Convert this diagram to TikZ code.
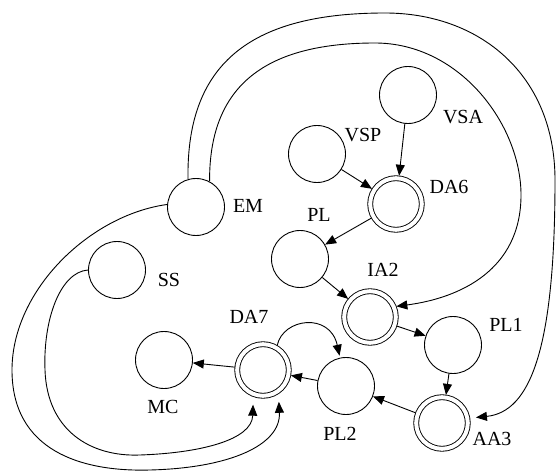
\documentclass[tikz,border=0pt]{standalone}
\usepackage{fontspec}
\setmainfont{Liberation Serif}
\usetikzlibrary{arrows.meta}
\begin{document}
\begin{tikzpicture}[x=1pt,y=-1pt,
  state/.style={circle,draw,line width=0.9pt,minimum size=57pt,inner sep=0pt},
  goal/.style={circle,draw,line width=0.9pt,double,double distance=4pt,
    minimum size=51.6pt,inner sep=0pt,outer sep=2.6pt},
  lbl/.style={inner sep=0pt,font=\fontsize{20}{24}\selectfont},
  arr/.style={line width=0.9pt,-{Triangle[length=11pt,width=9pt]}},
  link/.style={line width=0.9pt}]
\useasboundingbox (0,0) rectangle (557,473);

% states
\node[state] (VSA) at (408,95) {};
\node[state] (VSP) at (317,154) {};
\node[goal]  (DA6) at (396,204) {};
\node[state] (EM)  at (196,207) {};
\node[state] (PL)  at (300,259) {};
\node[goal]  (IA2) at (370,317) {};
\node[state] (PL1) at (453,345) {};
\node[state] (PL2) at (346,386) {};
\node[goal]  (AA3) at (442,423) {};
\node[goal]  (DA7) at (263,370) {};
\node[state] (MC)  at (164,360) {};
\node[state] (SS)  at (117,270) {};

% labels
\node[lbl] (tVSA) at (463,117) {VSA};
\node[lbl] (tVSP) at (363,135) {VSP};
\node[lbl] (tDA6) at (449,187) {DA6};
\node[lbl] (tEM)  at (248,206) {EM};
\node[lbl] (tPL)  at (319,215) {PL};
\node[lbl] (tIA2) at (383,270) {IA2};
\node[lbl] (tPL1) at (506,325) {PL1};
\node[lbl] (tPL2) at (340,434) {PL2};
\node[lbl] (tAA3) at (492,439) {AA3};
\node[lbl] (tDA7) at (249,317) {DA7};
\node[lbl] (tMC)  at (163,407) {MC};
\node[lbl] (tSS)  at (169,280) {SS};

% straight transitions
\draw[arr] (VSP) -- (DA6);
\draw[arr] (VSA) -- (DA6);
\draw[arr] (DA6) -- (PL);
\draw[arr] (PL) -- (IA2);
\draw[arr] (IA2) -- (PL1);
\draw[arr] (PL1) -- (AA3);
\draw[arr] (AA3) -- (PL2);
\draw[arr] (PL2) -- (DA7);
\draw[arr] (DA7) -- (MC);

% loop over the top of PL2
\draw[arr,shorten >=2pt] (DA7.60) .. controls (283,318) and (330,312) .. (PL2.102);

% long arcs from EM
\draw[arr] (EM.62) .. controls (209,90) and (260,43) .. (375,43)
  .. controls (460,43) and (521,125) .. (521,195)
  .. controls (521,270) and (460,298) .. (IA2.22);
\draw[arr,shorten >=6pt] (EM.106) .. controls (186,60) and (255,13) .. (385,13)
  .. controls (480,13) and (555,75) .. (555,180)
  .. controls (555,350) and (530,412) .. (AA3.10);
\draw[arr,shorten >=8pt] (EM.175) .. controls (90,215) and (12,290) .. (12,370)
  .. controls (12,450) and (80,472) .. (150,470)
  .. controls (230,468) and (281,445) .. (DA7.-57);
\draw[arr,shorten >=8pt] (SS.180) .. controls (60,272) and (43,320) .. (45,370)
  .. controls (47,430) and (90,457) .. (140,455)
  .. controls (200,453) and (252,440) .. (DA7.-110);
\end{tikzpicture}
\end{document}
